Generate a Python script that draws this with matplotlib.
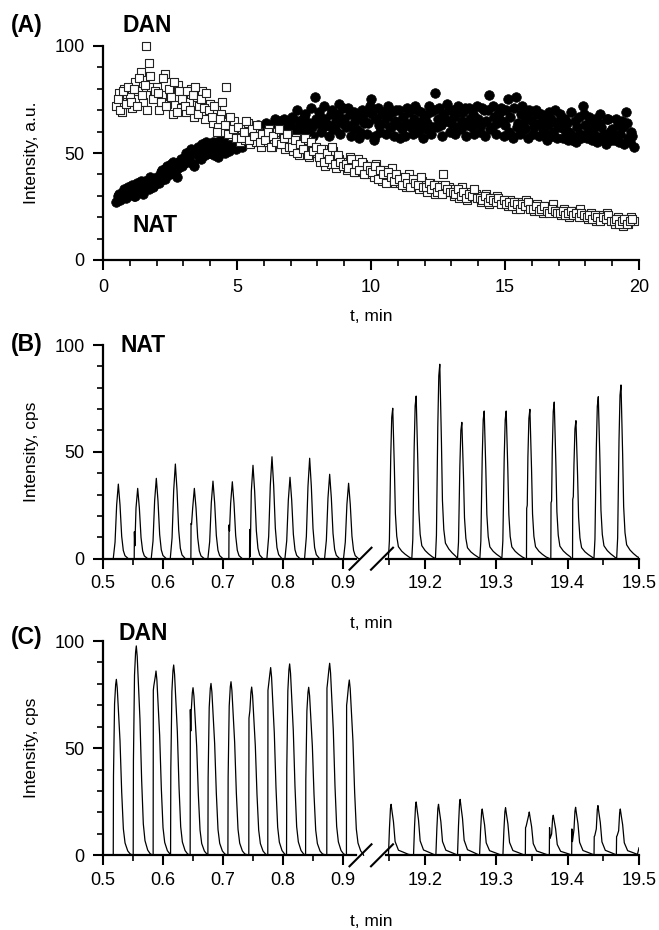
import matplotlib
matplotlib.use('Agg')
import matplotlib.pyplot as plt
import numpy as np
from matplotlib.ticker import MultipleLocator, FixedLocator
from matplotlib.lines import Line2D

plt.rcParams['font.family'] = ['Liberation Sans', 'DejaVu Sans']

# ---------------- Panel A data ----------------
scan_t = np.round(np.arange(0.5, 19.85, 0.1), 2)
dan_a = [72, 78, 69, 80, 74,
         76, 71, 83, 79, 88, 74, 100, 92, 81, 77,
         81, 70, 77, 87, 73, 79, 68, 76, 82, 71,
         78, 69, 74, 80, 67, 76, 72, 79, 66, 73,
         73, 64, 70, 62, 68, 60, 81, 63, 58, 65,
         59, 55, 61, 56, 64, 54, 58, 55, 60, 53,
         59, 55, 61, 53, 58, 60, 54, 57, 52, 59,
         55, 51, 57, 49, 54, 52, 56, 48, 53, 50,
         50, 46, 52, 44, 48, 45, 51, 43, 47, 46,
         46, 42, 48, 44, 41, 47, 43, 45, 40, 44,
         43, 39, 45, 41, 37, 42, 40, 38, 43, 36,
         39, 36, 38, 34, 40, 37, 35, 38, 33, 37,
         35, 32, 36, 34, 31, 35, 33, 40, 32, 34,
         33, 30, 32, 29, 34, 31, 28, 32, 30, 31,
         30, 27, 29, 31, 26, 29, 28, 30, 27, 28,
         27, 25, 28, 26, 24, 27, 25, 26, 28, 25,
         25, 23, 26, 24, 22, 25, 23, 24, 26, 23,
         23, 21, 24, 22, 20, 23, 21, 22, 24, 21,
         21, 19, 22, 20, 18, 21, 19, 20, 22, 19,
         19, 17, 20, 18, 16, 19, 17, 20, 18]
nat_a = [27, 31, 29, 33, 30,
         32, 35, 30, 34, 37, 31, 36, 33, 38, 35,
         39, 36, 42, 38, 44, 40, 46, 41, 43, 47,
         45, 50, 47, 52, 44, 51, 48, 54, 49, 53,
         50, 55, 52, 48, 56, 53, 57, 51, 58, 54,
         56, 60, 53, 58, 62, 57, 61, 59, 63, 58,
         60, 64, 59, 62, 66, 61, 65, 63, 60, 64,
         62, 66, 61, 65, 63, 67, 60, 64, 62, 76,
         64, 67, 62, 66, 63, 68, 61, 65, 73, 64,
         66, 63, 68, 62, 65, 67, 60, 66, 69, 64,
         75, 56, 66, 63, 68, 64, 67, 62, 69, 65,
         63, 57, 67, 64, 69, 62, 66, 70, 63, 65,
         67, 64, 69, 62, 78, 66, 63, 68, 65, 70,
         64, 67, 62, 69, 65, 71, 63, 66, 68, 64,
         66, 63, 70, 65, 77, 62, 67, 64, 69, 65,
         63, 75, 67, 57, 76, 64, 68, 62, 66, 70,
         65, 62, 68, 64, 61, 67, 63, 66, 60, 64,
         62, 66, 61, 64, 60, 56, 65, 62, 59, 72,
         63, 60, 65, 61, 58, 64, 62, 59, 66, 60,
         61, 58, 63, 59, 62, 69, 57, 60, 53]
# interleaved scans (0.55 ... 19.75 min)
scan_t2 = np.round(np.arange(0.55, 19.8, 0.1), 2)
dan_a2 = [75, 70, 79, 73, 81,
          74, 80, 72, 85, 77, 82, 70, 86, 75, 79,
          78, 74, 85, 72, 80, 76, 83, 69, 79, 75,
          72, 79, 70, 77, 81, 68, 75, 71, 78, 70,
          67, 72, 60, 66, 74, 63, 59, 67, 61, 57,
          62, 57, 60, 65, 56, 61, 58, 63, 55, 59,
          56, 60, 53, 58, 55, 61, 54, 57, 59, 53,
          53, 56, 50, 54, 52, 57, 49, 55, 51, 53,
          48, 52, 46, 50, 47, 53, 45, 49, 46, 44,
          45, 43, 47, 41, 45, 42, 46, 40, 44, 42,
          41, 44, 38, 42, 40, 36, 41, 39, 37, 40,
          38, 35, 39, 36, 34, 38, 36, 35, 39, 34,
          34, 36, 33, 35, 32, 34, 31, 35, 33, 32,
          32, 31, 33, 30, 32, 29, 31, 30, 33, 29,
          29, 28, 30, 27, 29, 28, 27, 29, 26, 28,
          26, 27, 25, 27, 26, 24, 26, 25, 27, 24,
          24, 25, 23, 24, 25, 23, 22, 24, 23, 22,
          22, 23, 21, 22, 23, 21, 22, 20, 22, 21,
          20, 21, 19, 21, 20, 18, 20, 19, 21, 18,
          18, 19, 17, 18, 19, 17, 18, 19]
nat_a2 = [30, 28, 32, 29, 34,
          33, 30, 36, 34, 32, 37, 35, 39, 34, 37,
          37, 41, 38, 43, 40, 45, 42, 39, 46, 44,
          48, 46, 51, 45, 50, 53, 47, 51, 55, 50,
          52, 49, 55, 51, 54, 50, 56, 53, 55, 52,
          58, 55, 61, 57, 60, 56, 62, 59, 61, 57,
          62, 59, 63, 61, 65, 60, 63, 66, 62, 61,
          67, 59, 70, 61, 57, 68, 62, 71, 58, 66,
          69, 60, 72, 63, 58, 70, 61, 68, 59, 71,
          62, 71, 58, 69, 61, 57, 70, 64, 59, 72,
          68, 58, 71, 60, 69, 59, 72, 62, 58, 70,
          70, 61, 58, 71, 63, 59, 72, 60, 69, 57,
          61, 72, 59, 70, 62, 71, 58, 66, 73, 60,
          70, 59, 72, 61, 69, 58, 71, 62, 59, 72,
          60, 71, 58, 70, 61, 72, 59, 68, 71, 58,
          70, 60, 58, 71, 62, 59, 72, 61, 57, 69,
          59, 70, 58, 68, 60, 56, 69, 58, 70, 57,
          68, 57, 66, 56, 69, 58, 55, 67, 57, 68,
          57, 67, 56, 66, 55, 68, 57, 54, 66, 56,
          56, 66, 55, 65, 54, 64, 55, 58]

# ---------------- Panel B (NAT) peaks ----------------
b_left_t = [0.5256, 0.5579, 0.5890, 0.6208, 0.6525, 0.6836, 0.7159, 0.7504, 0.7821, 0.8122, 0.8450, 0.8784, 0.9100]
b_left_h = [34.9, 32.9, 37.6, 44.3, 32.9, 36.3, 36.0, 43.7, 47.7, 38.1, 47.0, 39.5, 35.3]
b_left_s = [0, 12.6, 0, 0, 16.5, 0, 15.8, 13.7, 0, 0, 0, 0, 0]
b_left_d = [0, 6, 0, 0, 16, 0, 13, 1, 0, 0, 0, 0, 0]
b_right_t = [19.1551, 19.1879, 19.2210, 19.2519, 19.2832, 19.3140, 19.3472, 19.3813, 19.4117, 19.4430, 19.4748]
b_right_h = [70.4, 76.1, 91.0, 63.8, 69.1, 69.1, 69.9, 73.3, 64.6, 75.8, 81.3]
b_right_s = [0, 0, 0, 0, 0, 0, 23.6, 26.2, 27.8, 0, 0]
b_right_d = [0, 0, 0, 0, 0, 0, 25, 27, 29, 0, 0]

# ---------------- Panel C (DAN) peaks ----------------
c_left_t = [0.5223, 0.5556, 0.5885, 0.6180, 0.6503, 0.6803, 0.7137, 0.7482, 0.7799, 0.8116, 0.8434, 0.8784, 0.9112]
c_left_h = [82.1, 97.7, 86.0, 88.8, 78.2, 80.2, 81.0, 78.5, 87.6, 89.3, 78.4, 89.6, 81.8]
c_left_s = [0, 0, 77, 0, 68, 0, 0, 64, 77, 0, 0, 78, 70]
c_left_d = [0, 0, 79, 0, 58, 0, 0, 66, 79, 0, 0, 80, 72]
c_right_t = [19.1528, 19.1879, 19.2192, 19.2495, 19.2804, 19.3131, 19.3463, 19.3799, 19.4112, 19.4425, 19.4738]
c_right_h = [23.8, 24.9, 23.8, 26.1, 21.6, 22.2, 20.2, 18.7, 22.4, 23.2, 21.6]
c_right_s = [0, 0, 0, 0, 0, 0, 12.9, 12.9, 12.3, 8.7, 8.7]
c_right_d = [0, 0, 0, 0, 0, 0, 13.5, 7.9, 6.4, 9.2, 9.2]

# peak profiles (offset from apex in min, fraction of apex)
prof_bl_off = [-0.0085, -0.0055, -0.0028, 0, 0.0028, 0.0056, 0.0083, 0.0111, 0.0167]
prof_bl_rel = [0, 0.22, 0.72, 1, 0.72, 0.30, 0.11, 0.04, 0]
prof_br_off = [-0.0061, -0.0047, -0.0028, -0.0014, 0, 0.0023, 0.0037, 0.0056, 0.0079, 0.0126, 0.0173, 0.0225]
prof_br_rel = [0, 0.12, 0.68, 0.94, 1, 0.60, 0.30, 0.15, 0.08, 0.05, 0.03, 0.012]
prof_cl_off = [-0.0052, -0.0048, -0.0030, -0.0012, 0, 0.0015, 0.0035, 0.0061, 0.0089, 0.0117, 0.0145, 0.019, 0.023]
prof_cl_rel = [0, 0.45, 0.86, 0.97, 1, 0.95, 0.82, 0.65, 0.36, 0.15, 0.07, 0.025, 0.008]
prof_cr_off = [-0.0037, -0.0023, -0.0009, 0, 0.0014, 0.0033, 0.0056, 0.0103, 0.0173, 0.024]
prof_cr_rel = [0, 0.53, 0.92, 1, 0.85, 0.66, 0.27, 0.10, 0.06, 0.02]


def build_trace(tp, hp, sp, dp, poff, prel, notch_off, t0, t1, y1=0.0):
    xs, ys = [t0], [0.0]
    for a, h, s, d in zip(tp, hp, sp, dp):
        pts = [(a + o, h * r) for o, r in zip(poff, prel)]
        if s > 0:
            n0 = a + notch_off
            pre = [p for p in pts if p[0] < n0 - 0.00035]
            post = [p for p in pts if p[0] > n0 + 0.00081 and (p[0] >= a or p[1] > d)]
            pts = pre + [(n0 - 0.0003, 0.0), (n0, s), (n0 + 0.0008, d)] + post
        for x, y in pts:
            xs.append(x)
            ys.append(y)
    xs.append(t1)
    ys.append(y1)
    return xs, ys


W, H = 659, 930
fig = plt.figure(figsize=(W / 100, H / 100), dpi=100)


def fx(px):
    return px / W


def fy(py):
    return 1 - py / H


TICK_FS = 13
LAB_FS = 12.5
BOLD_FS = 16.5
SPINE_W = 1.6


def style_axis(ax, pad_x, left=True):
    for sp in ['top', 'right']:
        ax.spines[sp].set_visible(False)
    ax.spines['bottom'].set_linewidth(SPINE_W)
    ax.spines['left'].set_linewidth(SPINE_W)
    if not left:
        ax.spines['left'].set_visible(False)
        ax.tick_params(axis='y', which='both', left=False, labelleft=False)
    ax.tick_params(axis='both', which='major', direction='out', length=7.2, width=1.5,
                   labelsize=TICK_FS)
    ax.tick_params(axis='both', which='minor', direction='out', length=4.6, width=1.2)
    ax.tick_params(axis='x', which='major', pad=pad_x)
    ax.tick_params(axis='y', which='major', pad=6)


# ---------------- Panel A ----------------
axA = fig.add_axes([fx(103), fy(260), fx(639) - fx(103), fy(46) - fy(260)])
for tt, vv in ((scan_t, nat_a), (scan_t2, nat_a2)):
    axA.scatter(tt, vv, s=48, marker='o', facecolor='black', edgecolor='black',
                linewidths=0.5, clip_on=False, zorder=3)
for tt, vv in ((scan_t, dan_a), (scan_t2, dan_a2)):
    axA.scatter(tt, vv, s=32, marker='s', facecolor='white', edgecolor='#222222',
                linewidths=0.8, clip_on=False, zorder=4)
axA.set_xlim(0, 20)
axA.set_ylim(0, 100)
axA.xaxis.set_major_locator(FixedLocator([0, 5, 10, 15, 20]))
axA.xaxis.set_minor_locator(MultipleLocator(1))
axA.yaxis.set_major_locator(FixedLocator([0, 50, 100]))
axA.yaxis.set_minor_locator(MultipleLocator(10))
axA.set_xticklabels(['0', '5', '10', '15', '20'])
axA.set_yticklabels(['0', '50', '100'])
style_axis(axA, 6.5)


def broken_panel(y_top, y_bot, lt, lh, ls, ld, rt, rh, rs, rd,
                 lprof, rprof, lnotch, rnotch, l_end, r_end, pad_x):
    bottom = fy(y_bot)
    height = fy(y_top) - fy(y_bot)
    axL = fig.add_axes([fx(103), bottom, fx(356) - fx(103), height])
    axR = fig.add_axes([fx(386), bottom, fx(639) - fx(386), height])
    xl, yl = build_trace(lt, lh, ls, ld, lprof[0], lprof[1], lnotch, 0.5, l_end)
    xr, yr = build_trace(rt, rh, rs, rd, rprof[0], rprof[1], rnotch, 19.14, 19.5, r_end)
    axL.plot(xl, yl, color='black', lw=0.9, clip_on=False)
    axR.plot(xr, yr, color='black', lw=0.9)
    axL.set_xlim(0.5, 0.5 + 253 / 599)
    axR.set_xlim(19.5 - 253 / 714, 19.5)
    for ax in (axL, axR):
        ax.set_ylim(0, 100)
        ax.yaxis.set_major_locator(FixedLocator([0, 50, 100]))
        ax.yaxis.set_minor_locator(MultipleLocator(10))
    axL.set_yticklabels(['0', '50', '100'])
    axL.xaxis.set_major_locator(FixedLocator([0.5, 0.6, 0.7, 0.8, 0.9]))
    axL.set_xticklabels(['0.5', '0.6', '0.7', '0.8', '0.9'])
    axL.xaxis.set_minor_locator(FixedLocator([0.55, 0.65, 0.75, 0.85]))
    axR.xaxis.set_major_locator(FixedLocator([19.2, 19.3, 19.4, 19.5]))
    axR.set_xticklabels(['19.2', '19.3', '19.4', '19.5'])
    axR.xaxis.set_minor_locator(FixedLocator([19.15, 19.25, 19.35, 19.45]))
    style_axis(axL, pad_x)
    style_axis(axR, pad_x, left=False)
    # break marks
    for cx in (360.5, 382.0):
        fig.add_artist(Line2D([fx(cx - 11), fx(cx + 11)], [fy(y_bot + 11), fy(y_bot - 11)],
                              transform=fig.transFigure, color='black', lw=1.5))
    return axL, axR


broken_panel(345, 558.7, b_left_t, b_left_h, b_left_s, b_left_d,
             b_right_t, b_right_h, b_right_s, b_right_d,
             (prof_bl_off, prof_bl_rel), (prof_br_off, prof_br_rel),
             -0.0055, -0.0045, 0.928, 0.5, 4.5)
broken_panel(641, 855.3, c_left_t, c_left_h, c_left_s, c_left_d,
             c_right_t, c_right_h, c_right_s, c_right_d,
             (prof_cl_off, prof_cl_rel), (prof_cr_off, prof_cr_rel),
             -0.0045, -0.0052, 0.935, 3.5, 5.0)

# ---------------- Texts ----------------
def btxt(x, y, s):
    fig.text(fx(x), fy(y), s, fontsize=BOLD_FS, fontweight='bold', ha='left', va='baseline')


btxt(11, 32, '(A)')
btxt(123, 32, 'DAN')
btxt(133, 232, 'NAT')
btxt(11, 351, '(B)')
btxt(120, 351.5, 'NAT')
btxt(11, 644, '(C)')
btxt(118, 639.5, 'DAN')

fig.text(fx(31.7), fy(152.5), 'Intensity, a.u.', rotation=90, fontsize=LAB_FS, ha='center', va='center')
fig.text(fx(31.7), fy(451.7), 'Intensity, cps', rotation=90, fontsize=LAB_FS, ha='center', va='center')
fig.text(fx(31.7), fy(748.3), 'Intensity, cps', rotation=90, fontsize=LAB_FS, ha='center', va='center')

for yb in (321, 627.5, 926):
    fig.text(fx(371), fy(yb), 't, min', fontsize=LAB_FS, ha='center', va='baseline')

fig.savefig('out.png', dpi=100)
